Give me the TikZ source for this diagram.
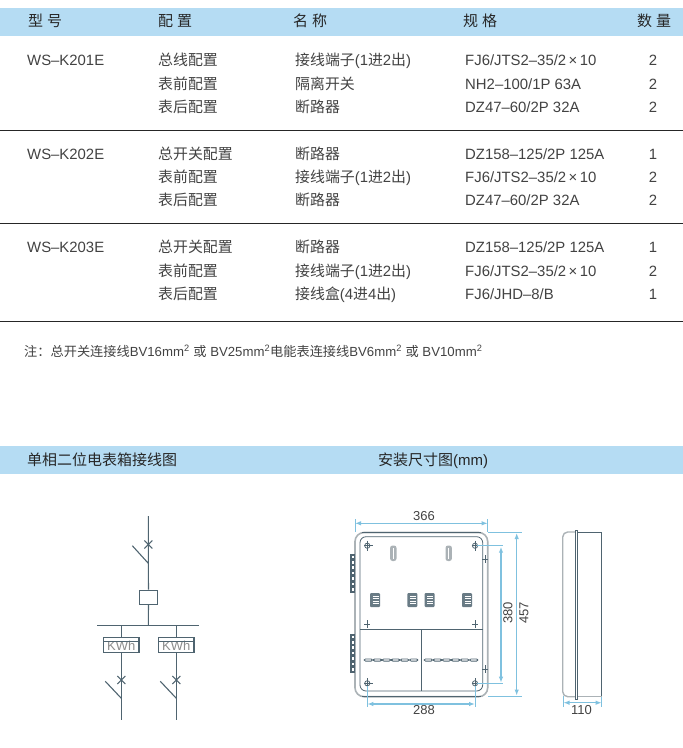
\documentclass[tikz,border=0pt]{standalone}
\usepackage{fontspec}
\setmainfont{Liberation Sans}
\newfontfamily\cjk{Noto Sans CJK SC}
\usetikzlibrary{arrows.meta}
\newcommand{\cj}[1]{{\cjk #1}}
\definecolor{band}{HTML}{B5DCF3}
\definecolor{ink}{HTML}{424242}
\definecolor{slate}{HTML}{4F6470}
\definecolor{dimc}{HTML}{7FC1DF}
\definecolor{shell}{HTML}{ABB2B6}
\tikzset{
  x=1pt,y=-1pt,
  rowtext/.style={anchor=base west,inner sep=0pt,text=ink,font=\fontsize{14.9}{15}\selectfont},
  qty/.style={anchor=base,inner sep=0pt,text=ink,font=\fontsize{14.9}{15}\selectfont},
  headtext/.style={anchor=base west,inner sep=0pt,text=black!85,font=\fontsize{15}{15}\selectfont},
  notetext/.style={anchor=base west,inner sep=0pt,text=ink,font=\fontsize{13.2}{13}\selectfont},
  dimtext/.style={inner sep=0pt,text=ink,font=\fontsize{13}{13}\selectfont},
  rule/.style={draw=black!85,line width=0.7pt},
  wire/.style={draw=slate,line width=1.1pt},
  dimline/.style={draw=dimc,line width=1.2pt,{Latex[length=6pt,width=4.5pt]}-{Latex[length=6pt,width=4.5pt]}},
  extline/.style={draw=dimc,line width=0.7pt},
  thin dark/.style={draw=slate,line width=0.8pt},
  meterbox/.style={draw=slate,line width=1.1pt,minimum width=35.4pt,minimum height=15.4pt,inner sep=0pt,text=black!45,font=\fontsize{13}{12}\selectfont},
  mainbox/.style={draw=slate,line width=1.1pt,minimum width=18.4pt,minimum height=14.3pt,inner sep=0pt},
}
\begin{document}
\begin{tikzpicture}
\useasboundingbox (0,0) rectangle (683,748);
% bands
\fill[band] (0,8) rectangle (683,36);
\fill[band] (0,446) rectangle (683,474);
% header
\node[headtext] (h1) at (28,26.5) {\cj{型\hspace{4pt}号}};
\node[headtext] (h2) at (158,26.5) {\cj{配\hspace{4pt}置}};
\node[headtext] (h3) at (293,26.5) {\cj{名\hspace{4pt}称}};
\node[headtext] (h4) at (463,26.5) {\cj{规\hspace{4pt}格}};
\node[headtext] (h5) at (637,26.5) {\cj{数\hspace{4pt}量}};
% group 1
\node[rowtext] (a0) at (27,65.5) {WS–K201E};
\node[rowtext] (a1) at (158,65.5) {\cj{总线配置}};
\node[rowtext] (a2) at (158,89.5) {\cj{表前配置}};
\node[rowtext] (a3) at (158,112.5) {\cj{表后配置}};
\node[rowtext] (a4) at (295,65.5) {\cj{接线端子}(1\cj{进}2\cj{出})};
\node[rowtext] (a5) at (295,89.5) {\cj{隔离开关}};
\node[rowtext] (a6) at (295,112.5) {\cj{断路器}};
\node[rowtext] (a7) at (465,65.5) {FJ6/JTS2–35/2\,×\,10};
\node[rowtext] (a8) at (465,89.5) {NH2–100/1P 63A};
\node[rowtext] (a9) at (465,112.5) {DZ47–60/2P 32A};
\node[qty] (q1) at (653,65.5) {2};
\node[qty] (q2) at (653,89.5) {2};
\node[qty] (q3) at (653,112.5) {2};
\draw[rule] (0,130) -- (683,130);
% group 2
\node[rowtext] (b0) at (27,159.5) {WS–K202E};
\node[rowtext] (b1) at (158,159.5) {\cj{总开关配置}};
\node[rowtext] (b2) at (158,182.5) {\cj{表前配置}};
\node[rowtext] (b3) at (158,205.5) {\cj{表后配置}};
\node[rowtext] (b4) at (295,159.5) {\cj{断路器}};
\node[rowtext] (b5) at (295,182.5) {\cj{接线端子}(1\cj{进}2\cj{出})};
\node[rowtext] (b6) at (295,205.5) {\cj{断路器}};
\node[rowtext] (b7) at (465,159.5) {DZ158–125/2P 125A};
\node[rowtext] (b8) at (465,182.5) {FJ6/JTS2–35/2\,×\,10};
\node[rowtext] (b9) at (465,205.5) {DZ47–60/2P 32A};
\node[qty] (q4) at (653,159.5) {1};
\node[qty] (q5) at (653,182.5) {2};
\node[qty] (q6) at (653,205.5) {2};
\draw[rule] (0,223) -- (683,223);
% group 3
\node[rowtext] (c0) at (27,252.5) {WS–K203E};
\node[rowtext] (c1) at (158,252.5) {\cj{总开关配置}};
\node[rowtext] (c2) at (158,276.5) {\cj{表前配置}};
\node[rowtext] (c3) at (158,299.5) {\cj{表后配置}};
\node[rowtext] (c4) at (295,252.5) {\cj{断路器}};
\node[rowtext] (c5) at (295,276.5) {\cj{接线端子}(1\cj{进}2\cj{出})};
\node[rowtext] (c6) at (295,299.5) {\cj{接线盒}(4\cj{进}4\cj{出})};
\node[rowtext] (c7) at (465,252.5) {DZ158–125/2P 125A};
\node[rowtext] (c8) at (465,276.5) {FJ6/JTS2–35/2\,×\,10};
\node[rowtext] (c9) at (465,299.5) {FJ6/JHD–8/B};
\node[qty] (q7) at (653,252.5) {1};
\node[qty] (q8) at (653,276.5) {2};
\node[qty] (q9) at (653,299.5) {1};
\draw[rule] (0,321) -- (683,321);
% note
\node[notetext] (note) at (24,356) {\cj{注：总开关连接线}BV16mm\textsuperscript{2} \cj{或} BV25mm\textsuperscript{2}\cj{电能表连接线}BV6mm\textsuperscript{2} \cj{或} BV10mm\textsuperscript{2}};
% section titles
\node[headtext] (s1) at (27,465) {\cj{单相二位电表箱接线图}};
\node[headtext] (s2) at (378,465) {\cj{安装尺寸图}(mm)};
% --- single line diagram ---
\coordinate (top) at (148.3,516);
\coordinate (piv) at (148.3,563.3);
\coordinate (bladeT) at (132.3,545.7);
\node[mainbox] (mb) at (148.5,597.2) {};
\coordinate (busL) at (97.3,625.3);
\coordinate (busR) at (198.7,625.3);
\coordinate (busC) at (148.3,625.3);
\coordinate (busA) at (121.3,625.3);
\coordinate (busB) at (176.3,625.3);
\node[meterbox,text depth=0pt] (m1) at (121.3,645) {\raisebox{-2pt}{KWh}};
\node[meterbox,text depth=0pt] (m2) at (176.3,645) {\raisebox{-2pt}{KWh}};
\draw[wire] (top) -- (piv) -- (bladeT);
\draw[wire] (piv) -- (mb.north);
\draw[wire] (mb.south) -- (busC);
\draw[wire] (busL) -- (busR);
\draw[wire] (busA) -- (m1.north);
\draw[wire] (busB) -- (m2.north);
\draw[wire] (m1.north west) ++(0,4.4) -- ++(35.4,0);
\draw[wire] (m2.north west) ++(0,4.4) -- ++(35.4,0);
\draw[wire] (144.3,540.5) -- (152.3,548.5) (144.3,548.5) -- (152.3,540.5);
\foreach \n/\cx in {m1/121.3,m2/176.3}{
  \draw[wire] (\n.south) -- (\cx,698.3) -- (\cx,720);
  \draw[wire] (\cx,698.3) -- (\cx-16,681.3);
  \draw[wire] (\cx-4,676) -- (\cx+4,684) (\cx-4,684) -- (\cx+4,676);
}
% --- front view ---
\draw[shell,line width=1.6pt,rounded corners=9pt] (355,532.5) rectangle (487.7,696.7);
\draw[slate,line width=0.7pt] (362,532.5) -- (481,532.5);
\draw[slate,line width=0.7pt] (362,696.7) -- (481,696.7);
\draw[slate,line width=0.8pt,rounded corners=6pt] (360,536.7) rectangle (482.7,691);
\draw[slate,line width=0.9pt] (360,629.3) -- (482.7,629.3);
\draw[slate,line width=0.9pt] (421.7,629.3) -- (421.7,691);
\foreach \x in {393.3,448.7}{
  \fill[shell,rounded corners=2.4pt] (\x-3.2,545.5) rectangle (\x+3.2,561);
  \draw[white,line width=0.9pt] (\x,548) -- (\x,558.5);
}
\foreach \x in {375,412.3,429.7,467}{
  \fill[slate!85,rounded corners=1pt] (\x-5,593) rectangle (\x+5,607);
  \foreach \y in {596,598.5,601,603.5}{\draw[white,line width=0.5pt] (\x-2.5,\y) -- (\x+3.5,\y);}
}
\foreach \xs in {364.3,424.3}{
  \foreach \k in {0,1,2,3,4,5}{
    \draw[slate,line width=0.8pt,rounded corners=1.2pt] (\xs+\k*9.1,658.9) rectangle (\xs+\k*9.1+8,661.1);
  }
}
\foreach \x/\y in {367.3/545.7,475/545.7,367.3/683.3,475/683.3}{
  \draw[thin dark] (\x,\y) circle (2.6pt);
  \draw[thin dark] (\x,\y-5) -- (\x,\y+5) (\x-3,\y) -- (\x+6,\y);
}
\foreach \x/\y in {367.3/624,475/624,485/559,485/669.3}{
  \draw[thin dark] (\x-3,\y) -- (\x+3,\y) (\x,\y-4) -- (\x,\y+4);
}
\foreach \yt in {554,634}{
  \fill[slate] (350.2,\yt) rectangle (355.2,\yt+39.3);
  \foreach \k in {0,1,2,3,4,5,6}{
    \fill[white] (351.5,\yt+1.5+\k*5.4) rectangle (353.9,\yt+4.2+\k*5.4);
  }
}
% --- dimensions ---
\coordinate (d1a) at (355,523.3);
\coordinate (d1b) at (487.7,523.3);
\draw[extline] (355,519) -- (355,532) (487.7,519) -- (487.7,532);
\draw[dimline] (d1a) -- (d1b);
\node[dimtext] (t366) at (424,516.5) {366};
\coordinate (d2a) at (501,546.7);
\coordinate (d2b) at (501,682.7);
\draw[extline] (477,545.7) -- (503,545.7) (477,683.3) -- (503,683.3);
\draw[dimline] (d2a) -- (d2b);
\node[dimtext,rotate=90] (t380) at (508,613) {380};
\coordinate (d3a) at (516.7,533);
\coordinate (d3b) at (516.7,695.5);
\draw[extline] (488,532.7) -- (522,532.7) (488,696.3) -- (522,696.3);
\draw[dimline] (d3a) -- (d3b);
\node[dimtext,rotate=90] (t457) at (524,613) {457};
\coordinate (d4a) at (367.3,704);
\coordinate (d4b) at (475,704);
\draw[extline] (367.3,686) -- (367.3,707) (475,686) -- (475,707);
\draw[dimline] (d4a) -- (d4b);
\node[dimtext] (t288) at (424,710.5) {288};
% --- side view ---
\draw[shell,line width=1.4pt,rounded corners=5pt] (576.7,532) -- (562.7,532) -- (562.7,696.7) -- (576.7,696.7);
\draw[slate,line width=0.9pt] (576.7,532) -- (601.7,532) -- (601.7,696.7);
\draw[shell,line width=1.2pt] (577,696.7) -- (601.7,696.7);
\draw[slate,line width=0.9pt,fill=white] (575.3,530) rectangle (577.8,699.3);
\coordinate (d5a) at (563.5,702.7);
\coordinate (d5b) at (601.7,702.7);
\draw[extline] (563.5,696) -- (563.5,707) (601.7,697) -- (601.7,707);
\draw[dimline] (d5a) -- (d5b);
\node[dimtext] (t110) at (581.5,710.5) {110};
\end{tikzpicture}
\end{document}
